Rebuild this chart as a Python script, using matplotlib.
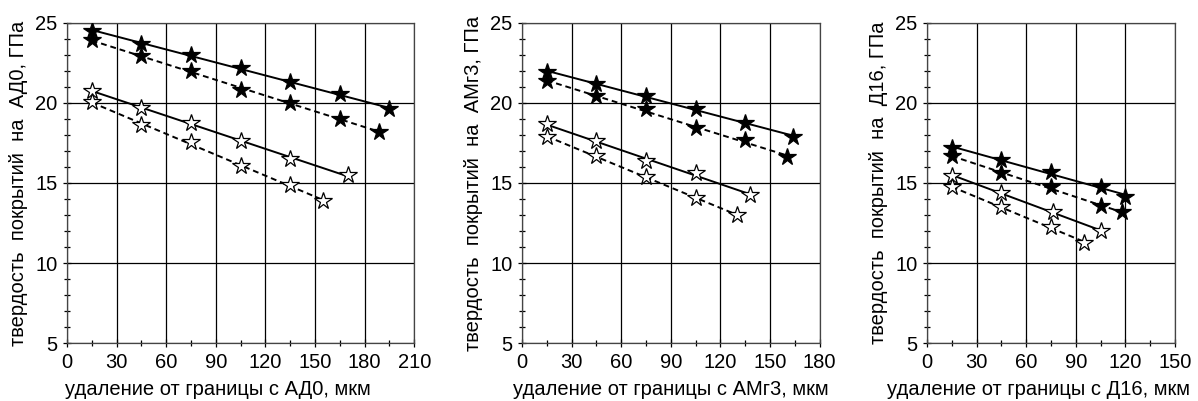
import numpy as np
import matplotlib.pyplot as plt
from matplotlib.ticker import MultipleLocator

plt.rcParams['font.family'] = ['Liberation Sans', 'DejaVu Sans']

# панель 1: АД0
x_ad0_fs = [15, 45, 75, 105, 135, 165, 195]
y_ad0_fs = [24.5, 23.7, 23.0, 22.15, 21.3, 20.55, 19.6]
x_ad0_fd = [15, 45, 75, 105, 135, 165, 189]
y_ad0_fd = [23.9, 22.9, 22.0, 20.8, 20.0, 19.0, 18.2]
x_ad0_os = [15, 45, 75, 105, 135, 170]
y_ad0_os = [20.75, 19.7, 18.75, 17.6, 16.5, 15.5]
x_ad0_od = [15, 45, 75, 105, 135, 155]
y_ad0_od = [20.05, 18.6, 17.55, 16.05, 14.85, 13.9]

# панель 2: АМг3
x_amg_fs = [15, 45, 75, 105, 135, 164]
y_amg_fs = [21.95, 21.2, 20.4, 19.6, 18.75, 17.9]
x_amg_fd = [15, 45, 75, 105, 135, 160]
y_amg_fd = [21.35, 20.4, 19.6, 18.4, 17.7, 16.6]
x_amg_os = [15, 45, 75, 105, 138]
y_amg_os = [18.65, 17.6, 16.4, 15.6, 14.25]
x_amg_od = [15, 45, 75, 105, 130]
y_amg_od = [17.85, 16.7, 15.4, 14.05, 13.0]

# панель 3: Д16
x_d16_fs = [15, 45, 75, 105, 120]
y_d16_fs = [17.2, 16.43, 15.7, 14.73, 14.15]
x_d16_fd = [15, 45, 75, 105, 118]
y_d16_fd = [16.7, 15.6, 14.73, 13.55, 13.2]
x_d16_os = [15, 45, 76, 105]
y_d16_os = [15.45, 14.4, 13.2, 12.0]
x_d16_od = [15, 45, 75, 95]
y_d16_od = [14.73, 13.5, 12.27, 11.27]

panels = [
    ("АД0", 210, [(x_ad0_fs, y_ad0_fs), (x_ad0_fd, y_ad0_fd), (x_ad0_os, y_ad0_os), (x_ad0_od, y_ad0_od)]),
    ("АМг3", 180, [(x_amg_fs, y_amg_fs), (x_amg_fd, y_amg_fd), (x_amg_os, y_amg_os), (x_amg_od, y_amg_od)]),
    ("Д16", 150, [(x_d16_fs, y_d16_fs), (x_d16_fd, y_d16_fd), (x_d16_os, y_d16_os), (x_d16_od, y_d16_od)]),
]
styles = [("black", "-"), ("black", (0, (3, 2))), ("white", "-"), ("white", (0, (3, 2)))]

fig = plt.figure(figsize=(11.98, 4.01), dpi=100)
lefts = [67, 522, 927]
label_x = [0.435, 0.5, 0.45]
for (name, xmax, series), left, lx in zip(panels, lefts, label_x):
    width = xmax / 30 * 49.6
    ax = fig.add_axes([left / 1198, 57.7 / 401, width / 1198, 320.6 / 401])
    for (xs, ys), (fc, ls) in zip(series, styles):
        xs = np.array(xs)
        k, b = np.polyfit(xs, ys, 1)
        ax.plot(xs[[0, -1]], k * xs[[0, -1]] + b, color="black", lw=1.4, ls=ls, zorder=3)
        ax.plot(xs, ys, ls="none", marker="*", ms=13, mfc=fc, mec="black", mew=0.9, zorder=4)
    ax.set_xlim(0, xmax)
    ax.set_ylim(5, 25)
    ax.xaxis.set_major_locator(MultipleLocator(30))
    ax.xaxis.set_minor_locator(MultipleLocator(15))
    ax.yaxis.set_major_locator(MultipleLocator(5))
    ax.yaxis.set_minor_locator(MultipleLocator(1))
    ax.grid(True, which="major", color="black", lw=0.9)
    ax.tick_params(which="major", direction="inout", length=6, width=0.9, labelsize=14.5, pad=4)
    ax.tick_params(which="minor", direction="inout", length=4, width=0.9)
    for s in ax.spines.values():
        s.set_color("#444444")
        s.set_linewidth(0.9)
    ax.set_xlabel(f"удаление от границы с {name}, мкм", fontsize=14.5)
    ax.xaxis.set_label_coords(lx, -0.115)
    ax.set_ylabel(f"твердость  покрытий  на  {name}, ГПа", fontsize=14.5, labelpad=5)

fig.savefig("out.png", dpi=100)
